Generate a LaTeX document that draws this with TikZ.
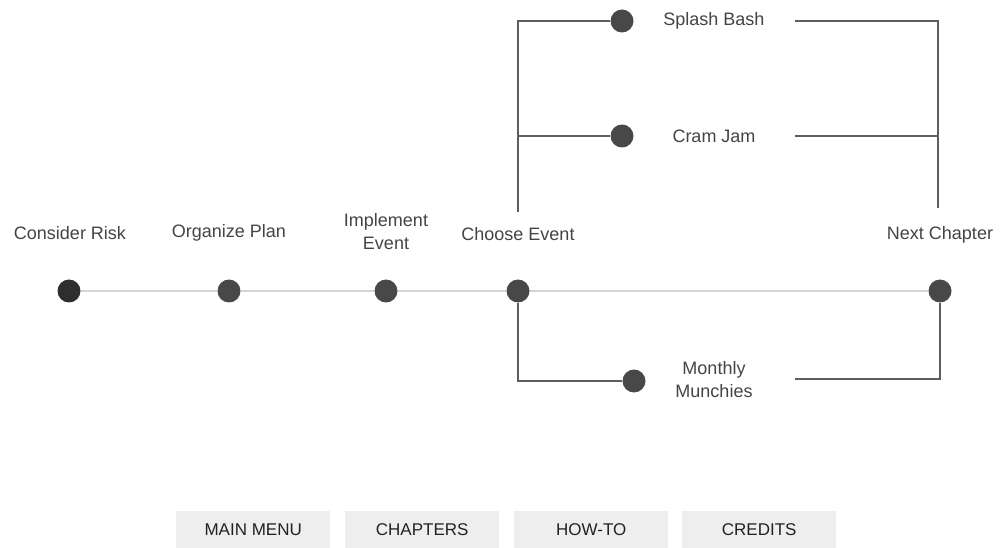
\documentclass[tikz,border=0pt]{standalone}
\usepackage{fontspec}
\setmainfont{Liberation Sans}
\newfontfamily\labelfont{Liberation Sans}
\definecolor{dotc}{HTML}{484848}
\definecolor{dotd}{HTML}{2E2E2E}
\definecolor{mainline}{HTML}{D4D4D4}
\definecolor{brline}{HTML}{5E5E5E}
\definecolor{txt}{HTML}{444444}
\definecolor{btnfill}{HTML}{EEEEEE}
\definecolor{btntxt}{HTML}{222222}
\begin{document}
\begin{tikzpicture}[x=1pt,y=-1pt,
  dot/.style={circle,fill=dotc,inner sep=0pt,minimum size=23pt},
  lbl/.style={text=txt,font=\labelfont\fontsize{18}{23}\selectfont,align=center,inner sep=0pt},
  btn/.style={fill=btnfill,minimum width=154pt,minimum height=37pt,anchor=north west,inner sep=0pt,text=btntxt,font=\fontsize{17}{18}\selectfont},
  tl/.style={draw=mainline,line width=2pt},
  br/.style={draw=brline,line width=1.2pt}]
\useasboundingbox[fill=white] (0,0) rectangle (1002,548);
% main dots
\node[dot,fill=dotd] (d1) at (69,291) {};
\node[dot] (d2) at (229,291) {};
\node[dot] (d3) at (386,291) {};
\node[dot] (d4) at (518,291) {};
\node[dot] (d5) at (940,291) {};
% timeline
\draw[tl] (d1) -- (d2);
\draw[tl] (d2) -- (d3);
\draw[tl] (d3) -- (d4);
\draw[tl] (d4) -- (d5);
% labels
\node[lbl] (l1) at (70,233) {Consider Risk};
\node[lbl] (l2) at (229,233) {Organize Plan};
\node[lbl] (l3) at (386,232) {Implement\\Event};
\node[lbl] (l4) at (518,234) {Choose Event};
\node[lbl] (l5) at (940,235) {Next Chapter};
% branch dots
\node[dot] (s) at (622,21) {};
\node[dot] (c) at (622,136) {};
\node[dot] (m) at (634,381) {};
\node[lbl] (ls) at (714,21) {Splash Bash};
\node[lbl] (lc) at (714,136) {Cram Jam};
\node[lbl] (lm) at (714,380) {Monthly\\Munchies};
% branch coordinates
\coordinate (ltop) at (518,212);
\coordinate (rtop) at (938,208);
\coordinate (lmid) at (518,136);
\coordinate (rmid) at (938,136);
\coordinate (sr) at (795,21);
\coordinate (cr) at (795,136);
\coordinate (mr) at (795,379);
% left branches
\draw[br] (ltop) |- (s);
\draw[br] (lmid) -- (c);
\draw[br] (d4) |- (m);
% right branches
\draw[br] (sr) -| (rtop);
\draw[br] (cr) -- (rmid);
\draw[br] (mr) -| (d5);
% buttons
\node[btn] (b1) at (176,511) {MAIN MENU};
\node[btn] (b2) at (345,511) {CHAPTERS};
\node[btn] (b3) at (514,511) {HOW-TO};
\node[btn] (b4) at (682,511) {CREDITS};
\end{tikzpicture}
\end{document}
